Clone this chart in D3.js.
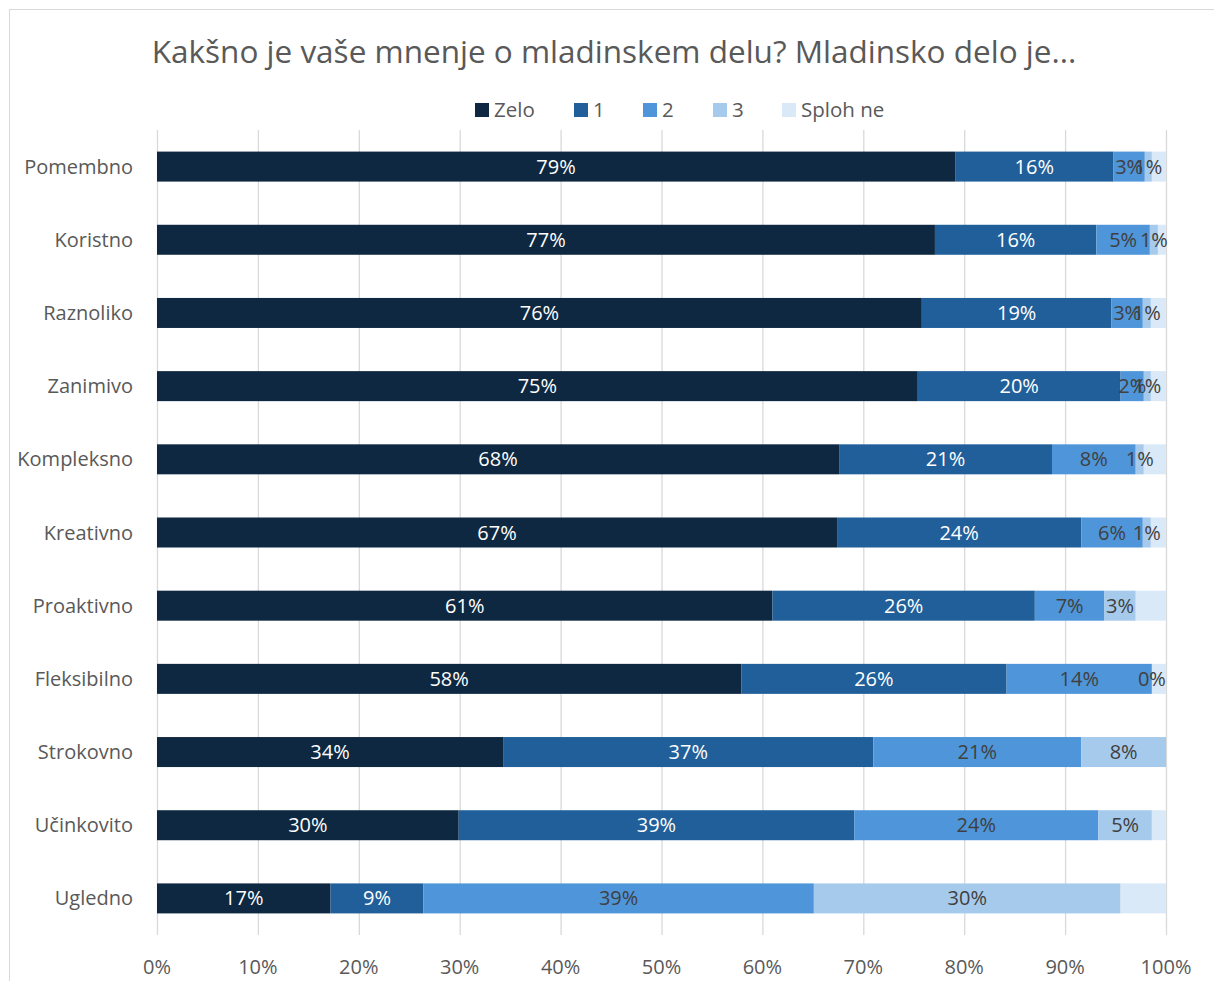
<!DOCTYPE html>
<html>
<head>
<meta charset="utf-8">
<script src="https://cdn.jsdelivr.net/npm/d3@7"></script>
<style>
  body { margin: 0; background: #fff; }
  text { font-family: "Open Sans", "Liberation Sans", sans-serif; }
</style>
</head>
<body>
<script>
// categories top to bottom
const categories = ["Pomembno", "Koristno", "Raznoliko", "Zanimivo", "Kompleksno", "Kreativno",
  "Proaktivno", "Fleksibilno", "Strokovno", "Učinkovito", "Ugledno"];
const seriesNames = ["Zelo", "1", "2", "3", "Sploh ne"];

// shares in percent
const zelo    = [79.1, 77.1, 75.8, 75.4, 67.6, 67.4, 61.0, 57.9, 34.3, 29.9, 17.2];
const ena     = [15.7, 16.0, 18.8, 20.1, 21.1, 24.2, 26.0, 26.3, 36.7, 39.2, 9.2];
const dva     = [3.1, 5.3, 3.1, 2.3, 8.3, 6.1, 6.9, 14.4, 20.6, 24.2, 38.7];
const tri     = [0.7, 0.8, 0.8, 0.7, 0.8, 0.8, 3.1, 0.0, 8.4, 5.3, 30.4];
const splohNe = [1.4, 0.8, 1.5, 1.5, 2.2, 1.5, 3.0, 1.4, 0.0, 1.4, 4.5];

const xTicks = [0, 10, 20, 30, 40, 50, 60, 70, 80, 90, 100];
const colors = ["#0e2841", "#215f9a", "#4e95d9", "#a6caec", "#dae9f8"];
const labelColors = ["#ffffff", "#ffffff", "#404040", "#404040", null]; // Sploh ne has no labels

const width = 1214, height = 981;
const margin = {top: 130, right: 48, bottom: 46, left: 157};

const svg = d3.select("body").append("svg")
  .attr("width", width)
  .attr("height", height);

// chart area border
svg.append("rect")
  .attr("x", 9.5).attr("y", 9.5)
  .attr("width", 1230).attr("height", 1000)
  .attr("fill", "none")
  .attr("stroke", "#d9d9d9");

svg.append("text")
  .attr("x", 614).attr("y", 63)
  .attr("text-anchor", "middle")
  .attr("font-size", 31.5)
  .attr("fill", "#595959")
  .text("Kakšno je vaše mnenje o mladinskem delu? Mladinsko delo je...");

const rows = categories.map((c, i) => ({
  cat: c, Zelo: zelo[i], "1": ena[i], "2": dva[i], "3": tri[i], "Sploh ne": splohNe[i]
}));
const stacked = d3.stack().keys(seriesNames)(rows);

const x = d3.scaleLinear().domain([0, 100]).range([margin.left, 1166]);
const y = d3.scaleBand().domain(categories)
  .range([margin.top, height - margin.bottom])
  .paddingInner(0.59).paddingOuter(0.295);

// gridlines
svg.append("g")
  .selectAll("line")
  .data(xTicks)
  .join("line")
    .attr("x1", d => x(d) + 0.5).attr("x2", d => x(d) + 0.5)
    .attr("y1", margin.top).attr("y2", height - margin.bottom)
    .attr("stroke", "#d9d9d9")
    .attr("stroke-width", 1.3);

// x tick labels
svg.append("g")
  .selectAll("text")
  .data(xTicks)
  .join("text")
    .attr("x", d => x(d))
    .attr("y", 974)
    .attr("text-anchor", "middle")
    .attr("font-size", 20)
    .attr("fill", "#595959")
    .text(d => d + "%");

// category labels
svg.append("g")
  .selectAll("text")
  .data(categories)
  .join("text")
    .attr("x", 133)
    .attr("y", d => y(d) + y.bandwidth() / 2)
    .attr("dy", "0.35em")
    .attr("text-anchor", "end")
    .attr("font-size", 20)
    .attr("fill", "#595959")
    .text(d => d);

// bars
const layers = svg.append("g")
  .selectAll("g")
  .data(stacked)
  .join("g")
    .attr("fill", (d, i) => colors[i]);

layers.selectAll("rect")
  .data(d => d)
  .join("rect")
    .attr("x", d => x(d[0]))
    .attr("y", d => y(d.data.cat))
    .attr("width", d => x(d[1]) - x(d[0]))
    .attr("height", y.bandwidth());

// data labels
const labelG = svg.append("g");
stacked.forEach((s, i) => {
  if (!labelColors[i]) return;
  labelG.selectAll(null)
    .data(s)
    .join("text")
      .attr("x", d => (x(d[0]) + x(d[1])) / 2)
      .attr("y", d => y(d.data.cat) + y.bandwidth() / 2)
      .attr("dy", "0.35em")
      .attr("text-anchor", "middle")
      .attr("font-size", 20)
      .attr("fill", labelColors[i])
      .text(d => Math.round(d[1] - d[0]) + "%");
});

// legend
const legendItems = [
  {name: "Zelo", x: 475},
  {name: "1", x: 574},
  {name: "2", x: 643},
  {name: "3", x: 713},
  {name: "Sploh ne", x: 782}
];
const legend = svg.append("g")
  .selectAll("g")
  .data(legendItems)
  .join("g")
    .attr("transform", d => `translate(${d.x},110)`);
legend.append("rect")
  .attr("x", 0).attr("y", -7)
  .attr("width", 14).attr("height", 14)
  .attr("fill", (d, i) => colors[i]);
legend.append("text")
  .attr("x", 19).attr("y", 0)
  .attr("dy", "0.35em")
  .attr("font-size", 20.5)
  .attr("fill", "#595959")
  .text(d => d.name);
</script>
</body>
</html>
